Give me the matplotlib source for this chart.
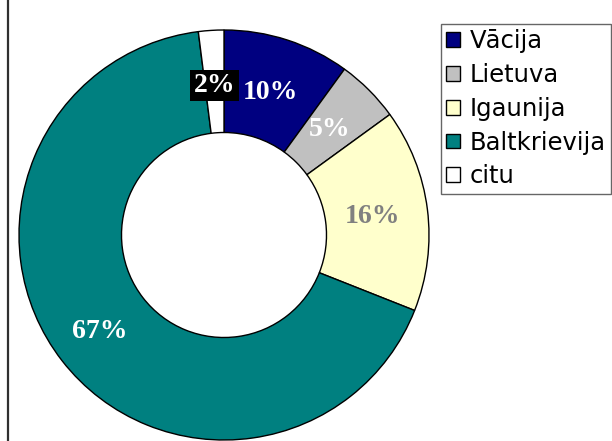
import matplotlib
matplotlib.use('Agg')
import matplotlib.pyplot as plt
from matplotlib.patches import Patch
from matplotlib.lines import Line2D
import numpy as np

# dati
countries = ['Vācija', 'Lietuva', 'Igaunija', 'Baltkrievija', 'citu']
shares = [10, 5, 16, 67, 2]
colors = ['#000080', '#c0c0c0', '#ffffcc', '#008080', '#ffffff']
label_colors = ['white', 'white', '#808080', 'white', 'white']

W, H = 612, 441
fig = plt.figure(figsize=(W / 100, H / 100), dpi=100)
fig.patch.set_facecolor('white')

ax = fig.add_axes([19 / W, 1 / H, 410 / W, 410 / H])
wedges, _ = ax.pie(shares, colors=colors, startangle=90, counterclock=False, radius=1,
                   wedgeprops=dict(width=0.5, edgecolor='black', linewidth=1))
ax.set_xlim(-1, 1)
ax.set_ylim(-1, 1)
ax.set_aspect('auto')
ax.axis('off')

# procentu uzraksti
for i, w in enumerate(wedges):
    ang = np.deg2rad((w.theta1 + w.theta2) / 2)
    r = 0.77 if shares[i] > 50 else 0.73
    box = None
    if countries[i] == 'citu':
        box = dict(facecolor='black', edgecolor='none', pad=2.5)
    ax.text(r * np.cos(ang), r * np.sin(ang), f'{shares[i]}%', ha='center', va='center',
            fontsize=20, fontweight='bold', family='Liberation Serif',
            color=label_colors[i], bbox=box)

# kreisā mala
fig.add_artist(Line2D([8 / W, 8 / W], [0, 1], color='#303030', lw=1.6))

handles = [Patch(facecolor=c, edgecolor='black', linewidth=1) for c in colors]
leg = fig.legend(handles, countries, loc='upper right', bbox_to_anchor=(611 / W, 1 - 24 / H),
                 prop=dict(family='DejaVu Sans', size=17.5), frameon=True, fancybox=False,
                 handlelength=0.55, handleheight=0.55, handletextpad=0.4, labelspacing=0.4,
                 borderpad=0.22, borderaxespad=0)
leg.get_frame().set_edgecolor('#404040')
leg.get_frame().set_linewidth(1)

fig.savefig('out.png', dpi=100)
